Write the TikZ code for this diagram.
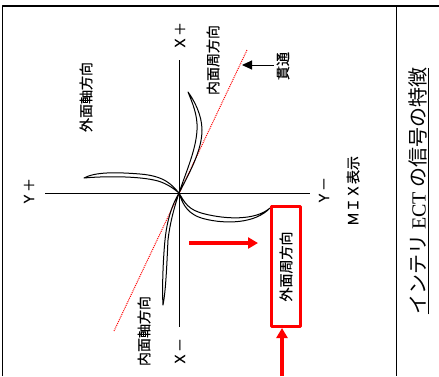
\documentclass[tikz,border=0pt]{standalone}
\usepackage{fontspec}
\setmainfont{Noto Sans CJK JP}[FakeBold=0.5]
\newfontfamily\titlefont{Noto Sans CJK JP}
\newfontfamily\ectfont{Liberation Serif}
\usepackage{tikz}
\usetikzlibrary{positioning,arrows.meta}
\tikzset{main/.style={color=black, line width=1pt}}
\tikzset{lbl/.style={rotate=90, inner sep=0pt, font=\fontsize{14}{14}\selectfont}}
\tikzset{trace/.style={red, line width=1pt, dash pattern=on 1pt off 1pt}}
\tikzset{hilite/.style={red, line width=3.5pt}}

\begin{document}
\begin{tikzpicture}[x=1pt, y=-1pt, line join=round]
		\useasboundingbox (0,0) rectangle (439,376);
		\draw[line width=1.2pt] (2.5,376) -- (2.5,6) -- (439,6);
		\draw[line width=1.2pt] (396.5,6) -- (396.5,376);
		\coordinate (O) at (179,193);
		\coordinate (yl) at (45,193);
		\coordinate (yr) at (310,193);
		\coordinate (xt) at (179,60);
		\coordinate (xb) at (179,327);
		\draw[main] (yl) -- (yr);
		\draw[main] (xt) -- (xb);
		\draw[trace] (247,50) -- (114,331);
		\draw[main] (O) .. controls (190,172) and (202,150) .. (202,130) .. controls (202,115) and (194,100) .. (188,92)
			.. controls (192,102) and (198,115) .. (197,130) .. controls (196,150) and (186,172) .. (O);
		\draw[main] (O) .. controls (172,185) and (165,176) .. (140,174) .. controls (115,172) and (95,172) .. (84,178)
			.. controls (105,176) and (140,176) .. (158,181) .. controls (168,184) and (174,189) .. (O);
		\draw[main] (O) .. controls (185,203) and (188,210) .. (205,214) .. controls (225,219) and (255,221) .. (270,208)
			.. controls (255,224) and (225,224) .. (205,219) .. controls (188,215) and (183,205) .. (O);
		\draw[main] (O) .. controls (172,205) and (167,220) .. (165,240) .. controls (163,260) and (162,290) .. (163,305)
			.. controls (166,290) and (167,260) .. (168,240) .. controls (170,222) and (175,205) .. (O);
		\foreach \nm/\px/\py/\txt in {xp/180/36/Ｘ＋, xm/180/352/Ｘ－, yp/29/192/Ｙ＋, ym/324/191/Ｙ－,
			mix/353/191/ＭＩＸ表示, outax/86/97/外面軸方向, inax/144/331/内面軸方向, incirc/213/60/内面周方向} {
			\node[lbl] (\nm) at (\px,\py) {\txt};
		}
		\node[lbl] (kantsu) at (283,66) {貫通};
		\coordinate (kt) at (242,65);
		\draw[main, -{Triangle[length=10pt, width=9pt]}, shorten <=3pt] (kantsu.north |- kt) -- (kt);
		\node[lbl, draw=red, line width=3pt, minimum width=120pt, minimum height=29pt] (box) at (286,266.5) {外面周方向};
		\coordinate (hs) at (189,243);
		\draw[hilite, -{Triangle[length=10pt, width=11pt]}, shorten >=12pt] (hs) -- (hs -| box.north);
		\coordinate (vs) at (282,376);
		\draw[hilite, -{Triangle[length=10pt, width=11pt]}] (vs) -- (vs |- box.west);
		\node[rotate=90, inner sep=0pt, font=\titlefont\fontsize{20}{20}\selectfont] (title) at (419,191) {\underline{インテリ {\ectfont ECT} の信号の特徴}};
	\end{tikzpicture}
\end{document}
